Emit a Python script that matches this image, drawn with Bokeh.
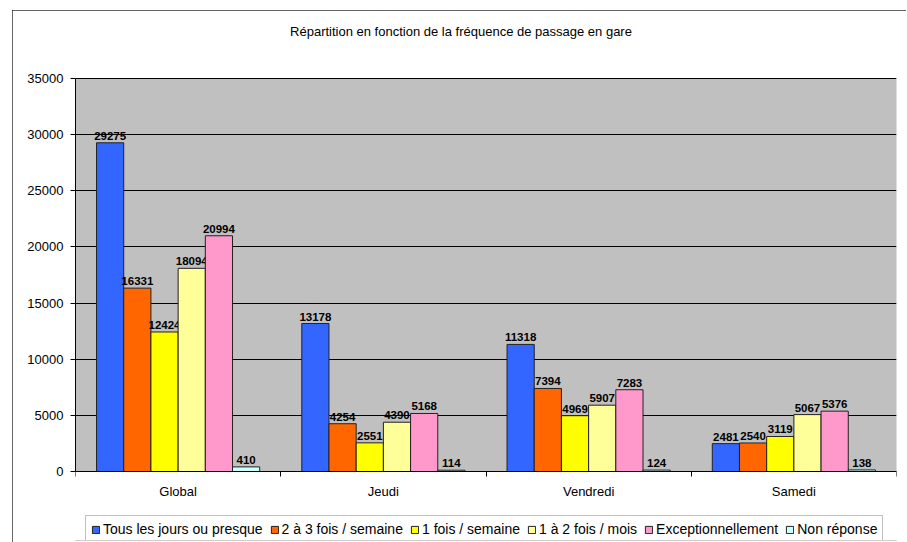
from bokeh.plotting import figure
from bokeh.models import (ColumnDataSource, FixedTicker, Legend, LegendItem, Range1d,
                          BoxAnnotation, Label)
from bokeh.core.properties import value
from bokeh.embed import file_html
from bokeh.resources import INLINE

categories = ["Global", "Jeudi", "Vendredi", "Samedi"]
series_names = ["Tous les jours ou presque", "2 à 3 fois / semaine", "1 fois / semaine",
                "1 à 2 fois / mois", "Exceptionnellement", "Non réponse"]
tous_les_jours = [29275, 13178, 11318, 2481]
deux_trois_semaine = [16331, 4254, 7394, 2540]
une_fois_semaine = [12424, 2551, 4969, 3119]
un_deux_mois = [18094, 4390, 5907, 5067]
exceptionnellement = [20994, 5168, 7283, 5376]
non_reponse = [410, 114, 124, 138]
series_values = [tous_les_jours, deux_trois_semaine, une_fois_semaine,
                 un_deux_mois, exceptionnellement, non_reponse]
y_ticks = [0, 5000, 10000, 15000, 20000, 25000, 30000, 35000]
y_max = 35000
title_text = "Répartition en fonction de la fréquence de passage en gare"

colors = ["#3366FF", "#FF6600", "#FFFF00", "#FFFF99", "#FF99CC", "#CCFFFF"]
FONT = "Liberation Sans"

# layout (pixels)
W, H = 894, 532
FRAME_TOP_PAD = 66      # px between frame top and the 35000 line
FRAME_BOTTOM_PAD = 69   # px between the 0 line and frame bottom
PLOT_PX = 393           # px from 0 to 35000
k = PLOT_PX / y_max
ncat = len(categories)

p = figure(width=W, height=H, output_backend="svg", toolbar_location=None,
           x_range=Range1d(0, ncat),
           y_range=Range1d(-FRAME_BOTTOM_PAD / k, y_max + FRAME_TOP_PAD / k),
           min_border_left=63, min_border_right=10, min_border_top=2,
           min_border_bottom=2)
p.margin = (10, 0, 0, 12)
p.styles = {"outline": "2px solid #333333", "outline-offset": "-2px"}

p.background_fill_color = "white"
p.border_fill_color = "white"
p.outline_line_color = None

# gray plot area
p.add_layout(BoxAnnotation(left=0, right=ncat, bottom=0, top=y_max,
                           fill_color="#C0C0C0", fill_alpha=1,
                           line_color="#808080", line_width=1, level="image"))

# title
p.add_layout(Label(x=ncat / 2 - 25 * ncat / 821, y=y_max + 47 / k, text=title_text,
                   text_align="center", text_baseline="middle",
                   text_font=FONT, text_font_size="13px", text_color="black"))

bw = 0.1325
n = len(series_values)
items = []
for i, (vals, name, col) in enumerate(zip(series_values, series_names, colors)):
    xs = [g + 0.5 + (i - (n - 1) / 2) * bw for g in range(ncat)]
    src = ColumnDataSource(dict(x=xs, top=vals, lab=[str(v) for v in vals]))
    r = p.vbar(x="x", top="top", width=bw, source=src, fill_color=col,
               line_color="#222222", line_width=1)
    p.text(x="x", y="top", text="lab", source=src, text_align="center",
           text_baseline="bottom", y_offset=-3, text_font=value(FONT),
           text_font_size="11.5px", text_font_style="bold", text_color="black")
    items.append(LegendItem(label=name, renderers=[r]))

# Y axis
p.yaxis.ticker = FixedTicker(ticks=y_ticks)
p.yaxis.bounds = (0, y_max)
p.yaxis.axis_line_color = "black"
p.yaxis.major_tick_line_color = "black"
p.yaxis.major_tick_in = 0
p.yaxis.major_tick_out = 5
p.yaxis.minor_tick_line_color = None
p.yaxis.major_label_standoff = 7
p.yaxis.major_label_text_font = FONT
p.yaxis.major_label_text_font_size = "13px"
p.yaxis.major_label_text_color = "black"

# X axis (at y = 0)
p.xaxis.fixed_location = 0
p.xaxis.ticker = FixedTicker(ticks=[g + 0.5 for g in range(ncat)],
                             minor_ticks=list(range(ncat + 1)))
p.xaxis.major_label_overrides = {g + 0.5: c for g, c in enumerate(categories)}
p.xaxis.axis_line_color = "black"
p.xaxis.major_tick_line_color = None
p.xaxis.major_tick_in = 0
p.xaxis.major_tick_out = 0
p.xaxis.minor_tick_line_color = "black"
p.xaxis.minor_tick_in = 0
p.xaxis.minor_tick_out = 5
p.xaxis.major_label_standoff = 7
p.xaxis.major_label_text_font = FONT
p.xaxis.major_label_text_font_size = "13px"
p.xaxis.major_label_text_color = "black"

p.xgrid.grid_line_color = None
p.ygrid.ticker = FixedTicker(ticks=y_ticks)
p.ygrid.grid_line_color = "black"
p.ygrid.grid_line_width = 1

legend = Legend(items=items, orientation="horizontal", location=(10, -3))
legend.label_text_font = FONT
legend.label_text_font_size = "14px"
legend.label_text_color = "black"
legend.glyph_width = 9
legend.glyph_height = 9
legend.label_standoff = 3
legend.spacing = 7
legend.padding = 5
legend.margin = 0
legend.border_line_color = "#808080"
legend.border_line_width = 1
legend.background_fill_color = "white"
legend.background_fill_alpha = 1
p.add_layout(legend)

open("out.html", "w").write(file_html(p, INLINE))
